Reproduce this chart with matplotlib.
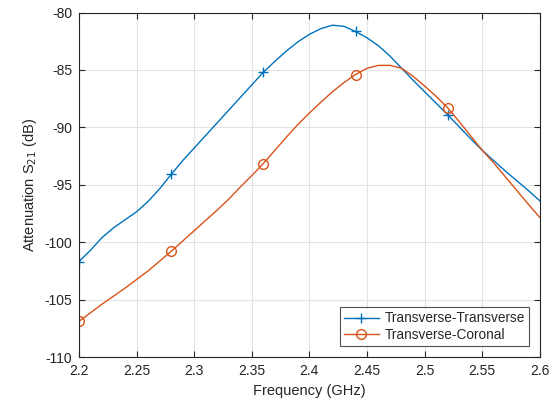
import matplotlib
matplotlib.use("Agg")
import matplotlib.pyplot as plt

plt.rcParams['font.family'] = ['Liberation Sans', 'DejaVu Sans']
plt.rcParams['axes.unicode_minus'] = False

# frequency samples (GHz)
freq = [2.20, 2.21, 2.22, 2.23, 2.24, 2.25, 2.26, 2.27, 2.28, 2.29,
        2.30, 2.31, 2.32, 2.33, 2.34, 2.35, 2.36, 2.37, 2.38, 2.39,
        2.40, 2.41, 2.42, 2.43, 2.44, 2.45, 2.46, 2.47, 2.48, 2.49,
        2.50, 2.51, 2.52, 2.53, 2.54, 2.55, 2.56, 2.57, 2.58, 2.59, 2.60]

# S21 (dB)
trans_trans = [-101.7, -100.7, -99.6, -98.75, -98.05, -97.35, -96.45, -95.35, -94.1, -92.9,
               -91.8, -90.7, -89.6, -88.5, -87.4, -86.3, -85.2, -84.25, -83.35, -82.55,
               -81.9, -81.4, -81.1, -81.2, -81.65, -82.2, -82.9, -83.8, -84.85, -85.9,
               -86.9, -87.9, -88.9, -89.95, -91.0, -92.0, -92.9, -93.8, -94.65, -95.5, -96.4]

trans_coronal = [-106.9, -106.15, -105.4, -104.7, -104.0, -103.25, -102.5, -101.65, -100.8, -99.9,
                 -99.0, -98.1, -97.2, -96.25, -95.2, -94.2, -93.15, -92.0, -90.85, -89.75,
                 -88.75, -87.8, -86.9, -86.1, -85.4, -84.85, -84.6, -84.6, -84.85, -85.55,
                 -86.4, -87.3, -88.3, -89.5, -90.75, -92.0, -93.1, -94.3, -95.5, -96.7, -97.85]

xticks = [2.2, 2.25, 2.3, 2.35, 2.4, 2.45, 2.5, 2.55, 2.6]
xtick_labels = ['2.2', '2.25', '2.3', '2.35', '2.4', '2.45', '2.5', '2.55', '2.6']
yticks = [-110, -105, -100, -95, -90, -85, -80]

marks = [0, 8, 16, 24, 32]

fig = plt.figure(figsize=(5.56, 4.05), dpi=100)
ax = fig.add_axes([0.142, 0.1185, 0.829, 0.8505])

ax.plot(freq, trans_trans, color='#0072BD', lw=1.0, marker='+', ms=7, mew=1.0,
        markevery=marks, label='Transverse-Transverse')
ax.plot(freq, trans_coronal, color='#D95319', lw=1.0, marker='o', ms=7, mew=1.0,
        mfc='none', markevery=marks, label='Transverse-Coronal')

ax.set_xlim(2.2, 2.6)
ax.set_ylim(-110, -80)
ax.set_xticks(xticks)
ax.set_xticklabels(xtick_labels)
ax.set_yticks(yticks)

ax.grid(True, color='#e3e3e3', lw=0.8)
ax.set_axisbelow(True)
for s in ax.spines.values():
    s.set_color('#262626')
    s.set_linewidth(0.8)
ax.tick_params(direction='in', top=True, right=True, length=4, width=0.8,
               colors='#262626', labelsize=10, pad=5)

ax.set_xlabel('Frequency (GHz)', fontsize=10.5, color='#262626')
ax.set_ylabel('Attenuation S$_{21}$ (dB)', fontsize=10.5, color='#262626')

leg = ax.legend(loc='lower right', fontsize=9.8, frameon=True, fancybox=False,
                borderaxespad=0.8, handlelength=2.6, borderpad=0.3, labelspacing=0.2,
                handletextpad=0.4)
leg.get_frame().set_edgecolor('#262626')
leg.get_frame().set_linewidth(0.8)
for t in leg.get_texts():
    t.set_color('#262626')

fig.savefig('out.png', dpi=100)
